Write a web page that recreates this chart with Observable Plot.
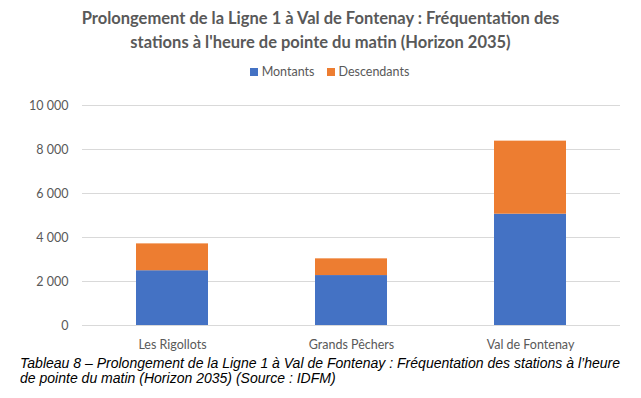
<!DOCTYPE html>
<html><head><meta charset="utf-8">
<script src="https://cdn.jsdelivr.net/npm/d3@7"></script>
<script src="https://cdn.jsdelivr.net/npm/@observablehq/plot@0.6"></script>
<style>
body{margin:0;background:#fff;width:641px;height:398px;overflow:hidden;font-family:Lato,"Open Sans",sans-serif;}
#title{position:absolute;left:0;top:6px;width:641px;text-align:center;font-weight:bold;font-size:16.5px;line-height:24px;color:#595959;}
#legend{position:absolute;left:0;top:64px;width:641px;text-align:center;font-size:12.5px;color:#595959;padding-left:18px;box-sizing:border-box}
#legend span.sw{display:inline-block;width:8px;height:8px;margin-right:4px;vertical-align:0px}
#legend span.it{margin:0 6px}
#chart{position:absolute;left:0;top:92px;}
#caption{position:absolute;left:20px;top:356px;white-space:nowrap;font-family:"Liberation Sans Narrow","Arial Narrow","Liberation Sans",Arial,sans-serif;font-style:italic;font-size:14px;line-height:15px;color:#000;transform-origin:0 0;}
</style></head>
<body>
<div id="title">Prolongement de la Ligne 1 à Val de Fontenay : Fréquentation des<br>stations à l'heure de pointe du matin (Horizon 2035)</div>
<div id="legend"></div>
<div id="chart"></div>
<div id="caption"><span id="cap1">Tableau 8 – Prolongement de la Ligne 1 à Val de Fontenay : Fréquentation des stations à l’heure</span><br>de pointe du matin (Horizon 2035) (Source : IDFM)</div>
<script>
const stations = ["Les Rigollots", "Grands Pêchers", "Val de Fontenay"];
const montants = [2490, 2270, 5060];
const descendants = [1220, 760, 3320];
const seriesNames = ["Montants", "Descendants"];
const seriesColors = ["#4472C4", "#ED7D31"];
const yTicks = [0, 2000, 4000, 6000, 8000, 10000];

const data = [];
stations.forEach((s, i) => {
  data.push({station: s, serie: seriesNames[0], value: montants[i]});
  data.push({station: s, serie: seriesNames[1], value: descendants[i]});
});

const legend = document.getElementById("legend");
seriesNames.forEach((n, i) => {
  const it = document.createElement("span");
  it.className = "it";
  it.innerHTML = `<span class="sw" style="background:${seriesColors[i]}"></span>${n}`;
  legend.appendChild(it);
});

// fit caption first line to the reference width
const cap1 = document.getElementById("cap1");
const w = cap1.getBoundingClientRect().width;
if (w > 0) document.getElementById("caption").style.transform = `scaleX(${600 / w})`;

const fmt = v => d3.format(",")(v).replace(/,/g, " ");

const chart = Plot.plot({
  width: 641,
  height: 262,
  marginLeft: 82,
  marginRight: 21,
  marginTop: 13,
  marginBottom: 29,
  style: {fontFamily: "Lato, 'Open Sans', sans-serif", fontSize: "12px", color: "#595959", background: "#fff"},
  x: {domain: stations, paddingInner: 0.6, paddingOuter: 0.3, label: null},
  y: {domain: [0, 10000], label: null},
  color: {domain: seriesNames, range: seriesColors},
  marks: [
    Plot.gridY(yTicks, {stroke: "#d9d9d9", strokeOpacity: 1, strokeWidth: 1}),
    Plot.barY(data, {x: "station", y: "value", fill: "serie", order: seriesNames}),
    Plot.axisX({tickSize: 0, tickPadding: 15, fontSize: 12.5}),
    Plot.axisY({ticks: yTicks, tickFormat: fmt, tickSize: 0, tickPadding: 14, fontSize: 12.5})
  ]
});
document.getElementById("chart").appendChild(chart);
</script>
</body></html>
